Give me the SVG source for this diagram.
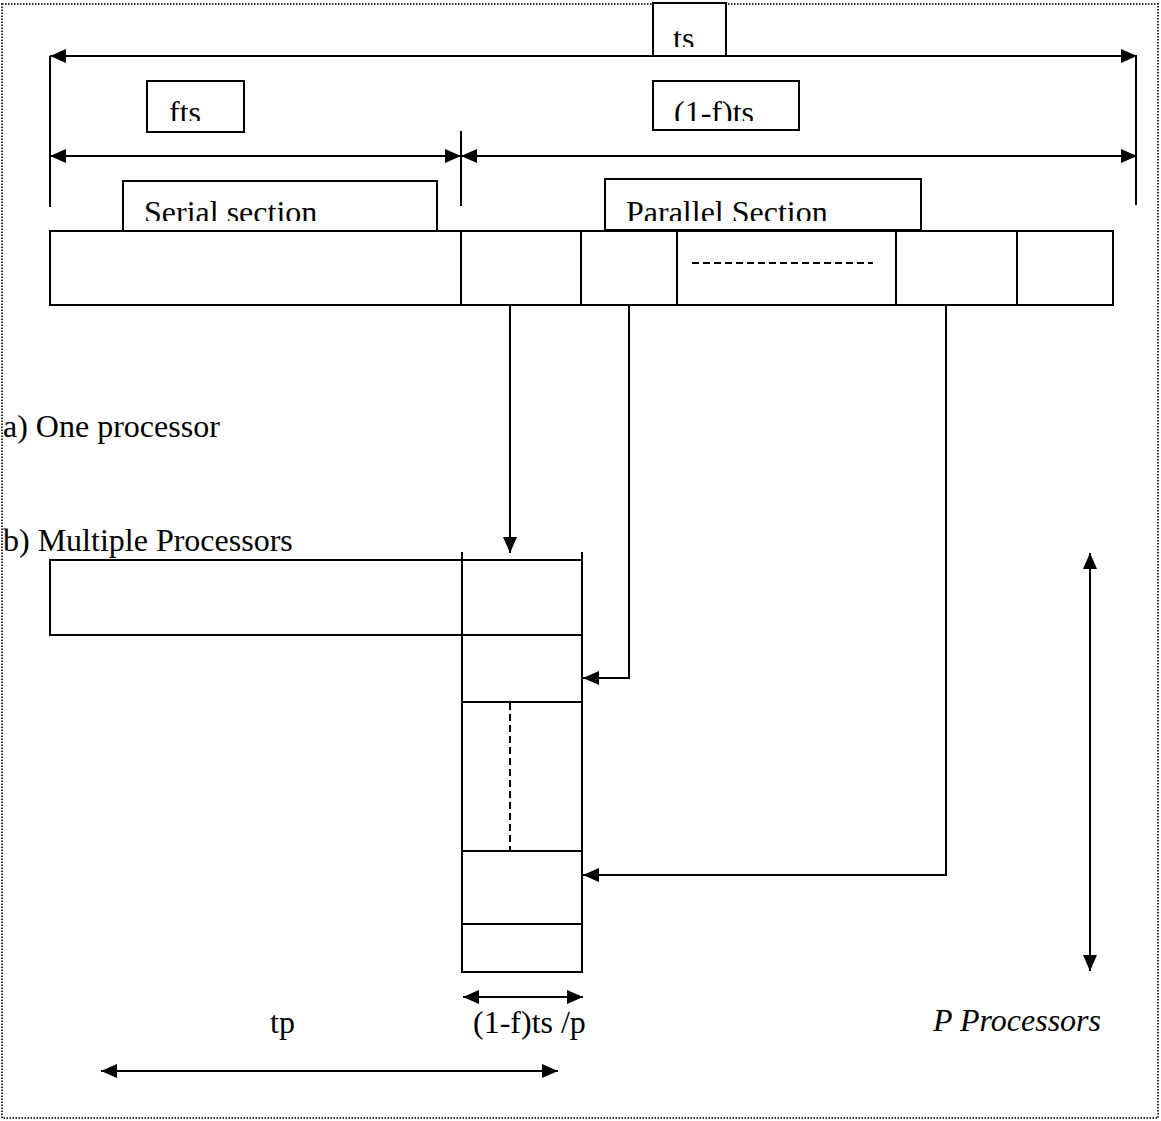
<svg xmlns="http://www.w3.org/2000/svg" width="1161" height="1121" viewBox="0 0 1161 1121">
<style>
.t{font-family:"Liberation Serif","Times New Roman",serif;font-size:32px;fill:#000}
.i{font-style:italic}
.box{fill:#fff;stroke:#000;stroke-width:2}
.ln{stroke:#000;stroke-width:2;fill:none}
.dash{stroke:#000;stroke-width:2;fill:none;stroke-dasharray:7,4}
.arr{stroke:#000;stroke-width:2;fill:none;marker-end:url(#ah)}
.arr2{stroke:#000;stroke-width:2;fill:none;marker-end:url(#ah);marker-start:url(#ah)}
.frame{stroke:#333;stroke-width:2;fill:none;stroke-dasharray:1.5,1.5}
</style>
<defs>
<marker id="ah" viewBox="0 0 16 14" refX="16" refY="7" markerWidth="16" markerHeight="14" markerUnits="userSpaceOnUse" orient="auto-start-reverse">
<path d="M0,0 L16,7 L0,14 z" fill="#000"/>
</marker>
<clipPath id="c1"><rect x="0" y="0" width="1161" height="47"/></clipPath>
<clipPath id="c2"><rect x="0" y="80" width="1161" height="41"/></clipPath>
<clipPath id="c3"><rect x="0" y="180" width="1161" height="41"/></clipPath>
</defs>
<rect width="1161" height="1121" fill="#fff"/>
<rect class="frame" x="2" y="4" width="1156" height="1114"/>

<g id="connectors">
<line class="arr2" x1="50" y1="56" x2="1137" y2="56"/>
<line class="ln" x1="50" y1="56" x2="50" y2="207"/>
<line class="ln" x1="1136" y1="56" x2="1136" y2="205"/>
<line class="ln" x1="461" y1="131" x2="461" y2="206"/>
<line class="arr2" x1="50" y1="156" x2="461" y2="156"/>
<line class="arr2" x1="461" y1="156" x2="1137" y2="156"/>
<path class="arr" d="M510,305 V553"/>
<path class="arr" d="M629,305 V678 H583"/>
<path class="arr" d="M946,305 V875 H583"/>
<line class="arr2" x1="463" y1="997" x2="583" y2="997"/>
<line class="arr2" x1="101" y1="1071" x2="558" y2="1071"/>
<line class="arr2" x1="1090" y1="553" x2="1090" y2="971"/>
</g>

<g id="ts-label">
<rect class="box" x="653" y="3" width="73" height="53"/>
<text class="t" x="673" y="49" clip-path="url(#c1)">ts</text>
</g>
<g id="fts-label">
<rect class="box" x="147" y="81" width="97" height="51"/>
<text class="t" x="169" y="123" clip-path="url(#c2)">fts</text>
</g>
<g id="1fts-label">
<rect class="box" x="653" y="81" width="146" height="49"/>
<text class="t" x="674" y="123" clip-path="url(#c2)">(1-f)ts</text>
</g>
<g id="serial-label">
<rect class="box" x="123" y="181" width="314" height="50"/>
<text class="t" x="144" y="223" clip-path="url(#c3)">Serial section</text>
</g>
<g id="parallel-label">
<rect class="box" x="605" y="179" width="316" height="51"/>
<text class="t" x="626" y="223" clip-path="url(#c3)">Parallel Section</text>
</g>

<g id="one-processor-bar">
<rect class="box" x="50" y="231" width="1063" height="74"/>
<line class="ln" x1="461" y1="231" x2="461" y2="305"/>
<line class="ln" x1="581" y1="231" x2="581" y2="305"/>
<line class="ln" x1="677" y1="231" x2="677" y2="305"/>
<line class="ln" x1="896" y1="231" x2="896" y2="305"/>
<line class="ln" x1="1017" y1="231" x2="1017" y2="305"/>
<line class="dash" x1="692" y1="263" x2="873" y2="263"/>
</g>

<g id="label-a"><text class="t" x="3" y="437">a) One processor</text></g>
<g id="label-b"><text class="t" x="3" y="551">b) Multiple Processors</text></g>

<g id="serial-bar-b">
<rect class="box" x="50" y="560" width="412" height="75"/>
</g>
<g id="processor-column">
<line class="ln" x1="462" y1="552" x2="462" y2="973"/>
<line class="ln" x1="582" y1="552" x2="582" y2="973"/>
<line class="ln" x1="462" y1="560" x2="582" y2="560"/>
<line class="ln" x1="462" y1="635" x2="582" y2="635"/>
<line class="ln" x1="462" y1="702" x2="582" y2="702"/>
<line class="ln" x1="462" y1="851" x2="582" y2="851"/>
<line class="ln" x1="462" y1="924" x2="582" y2="924"/>
<line class="ln" x1="462" y1="972" x2="582" y2="972"/>
<line class="dash" x1="510" y1="703" x2="510" y2="850"/>
</g>

<g id="label-1ftsp"><text class="t" x="473" y="1033">(1-f)ts /p</text></g>
<g id="label-tp"><text class="t" x="270" y="1033">tp</text></g>
<g id="label-p"><text class="t i" x="933" y="1031">P Processors</text></g>
</svg>
